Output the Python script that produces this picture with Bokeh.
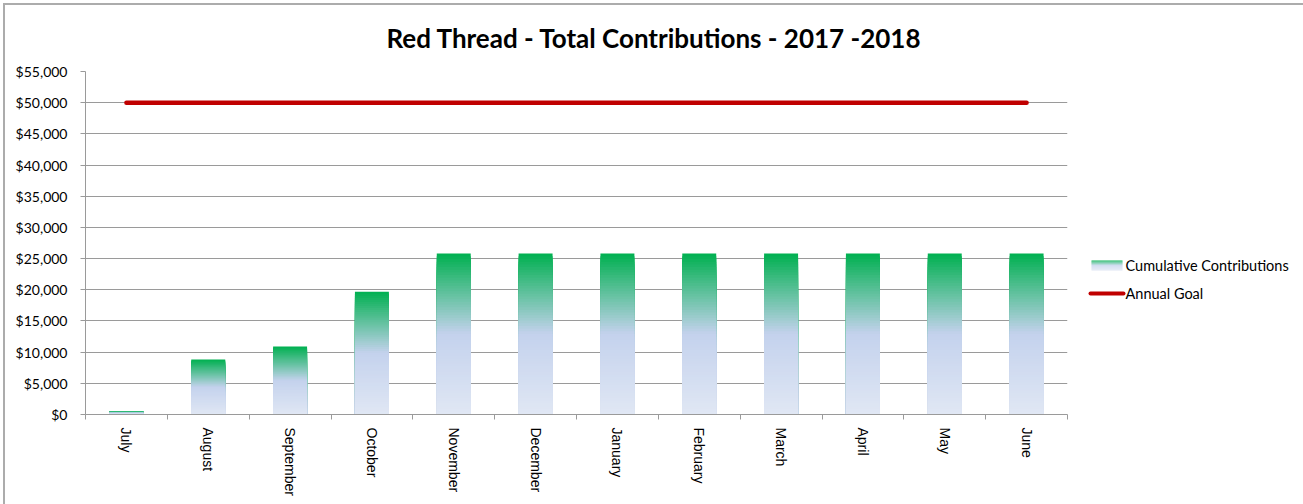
import numpy as np
from bokeh.plotting import figure
from bokeh.layouts import row
from bokeh.models import Range1d, FixedTicker, NumeralTickFormatter, ColumnDataSource
from bokeh.core.properties import value
from bokeh.embed import file_html
from bokeh.resources import INLINE

# ---- data ----
months = ["July", "August", "September", "October", "November", "December",
          "January", "February", "March", "April", "May", "June"]
cumulative = [500, 8800, 10900, 19700, 25800, 25800, 25800, 25800, 25800, 25800, 25800, 25800]
annual_goal = [50000, 50000, 50000, 50000, 50000, 50000, 50000, 50000, 50000, 50000, 50000, 50000]
y_ticks = [0, 5000, 10000, 15000, 20000, 25000, 30000, 35000, 40000, 45000, 50000, 55000]
series_names = ["Cumulative Contributions", "Annual Goal"]

title_text = "Red Thread - Total Contributions - 2017 -2018"

# gradient stops for the bars: (fraction of bar height from bottom, rgb)
grad_stops = [(0.0, (0xE0, 0xE7, 0xF4)), (0.5, (0xC4, 0xD2, 0xED)), (1.0, (0x00, 0xB0, 0x50))]
GOAL_COLOR = "#C00000"
GRID_COLOR = "#9a9a9a"


def grad_color(f):
    for (f0, c0), (f1, c1) in zip(grad_stops[:-1], grad_stops[1:]):
        if f <= f1:
            t = (f - f0) / (f1 - f0)
            r, g, b = (int(round(a + (bb - a) * t)) for a, bb in zip(c0, c1))
            return "#%02x%02x%02x" % (r, g, b)
    return "#%02x%02x%02x" % grad_stops[-1][1]


# page is offset by a thin border at top/left
SHIFT = 5
H = 504 - SHIFT
MAIN_W = 1080 - SHIFT
LEG_W = 1303 - 1080
F_LEFT, F_RIGHT, F_TOP, F_BOTTOM = 80, 1062, 66, 409

p = figure(width=MAIN_W, height=H, output_backend="svg", toolbar_location=None,
           x_range=Range1d(0, len(months)), y_range=Range1d(0, 55000),
           min_border_left=F_LEFT, min_border_right=MAIN_W - F_RIGHT,
           min_border_top=F_TOP, min_border_bottom=H - F_BOTTOM)
p.outline_line_color = None
p.border_fill_color = "white"

centers = [i + 0.5 for i in range(len(months))]
bounds = [float(i) for i in range(len(months) + 1)]

# bars: overlapping slices from the tallest down, each slice coloured by its height fraction
N = 60
xs, tops, cols = [], [], []
for k in range(N - 1, -1, -1):
    f = (k + 1) / N
    c = grad_color((k + 0.5) / N)
    for xc, v in zip(centers, cumulative):
        xs.append(xc)
        tops.append(v * f)
        cols.append(c)
src = ColumnDataSource(dict(x=xs, top=tops, color=cols))
p.vbar(x="x", top="top", bottom=0, width=0.415, fill_color="color", line_color=None, source=src)

# annual goal line
p.line(centers, annual_goal, line_color=GOAL_COLOR, line_width=4.5, line_cap="round")

# title
p.title.text = title_text
p.title.align = "left"
p.title.vertical_align = "top"
p.title.offset = 301
p.title.standoff = 31
p.title.text_font = "Lato"
p.title.text_font_style = "bold"
p.title.text_font_size = "26px"
p.title.text_color = "#000000"

# axes
p.xgrid.visible = False
p.ygrid.ticker = FixedTicker(ticks=y_ticks)
p.ygrid.grid_line_color = GRID_COLOR
p.ygrid.grid_line_width = 1

ya = p.yaxis[0]
ya.ticker = FixedTicker(ticks=y_ticks)
ya.formatter = NumeralTickFormatter(format="$0,0")
ya.axis_line_color = GRID_COLOR
ya.major_tick_line_color = GRID_COLOR
ya.major_tick_out = 5
ya.major_tick_in = 0
ya.minor_tick_line_color = None
ya.major_label_standoff = 13
ya.major_label_text_font = "Lato"
ya.major_label_text_font_size = "14px"
ya.major_label_text_color = "#000000"

xa = p.xaxis[0]
xa.ticker = FixedTicker(ticks=centers, minor_ticks=bounds)
xa.major_label_overrides = {c: m for c, m in zip(centers, months)}
xa.axis_line_color = GRID_COLOR
xa.major_tick_line_color = None
xa.major_tick_out = 0
xa.major_tick_in = 0
xa.minor_tick_line_color = GRID_COLOR
xa.minor_tick_out = 5
xa.minor_tick_in = 0
xa.major_label_orientation = -np.pi / 2
xa.major_label_standoff = 8
xa.major_label_text_font = "Liberation Sans"
xa.major_label_text_font_size = "14px"
xa.major_label_text_color = "#000000"

# legend panel: its frame lines up with the chart frame, data units are pixels (y down)
lg = figure(width=LEG_W, height=H, output_backend="svg", toolbar_location=None,
            x_range=Range1d(0, LEG_W), y_range=Range1d(F_BOTTOM, F_TOP),
            x_axis_location=None, y_axis_location=None, min_border=0)
lg.grid.visible = False
lg.outline_line_color = None
lg.border_fill_color = "white"

sw_l, sw_r, sw_t, sw_b = 11, 42, 255, 265
nsw = 20
step = (sw_b - sw_t) / nsw
lg.quad(left=sw_l, right=sw_r,
        top=[sw_t + i * step for i in range(nsw)],
        bottom=[sw_t + (i + 1.2) * step for i in range(nsw)],
        fill_color=[grad_color(1 - (i + 0.5) / nsw) for i in range(nsw)],
        line_color=None)
lg.line([10, 43], [288, 288], line_color=GOAL_COLOR, line_width=4, line_cap="round")
lg.text(x=[45, 45], y=[260, 288], text=series_names, text_align="left",
        text_baseline="middle", text_font=value("Lato"), text_font_size="14.5px",
        text_color="#000000")

layout = row(p, lg, margin=(3, 0, 0, 3),
             styles={"border-top": "2px solid #acacac", "border-left": "2px solid #acacac"})

open("out.html", "w").write(file_html(layout, INLINE))
